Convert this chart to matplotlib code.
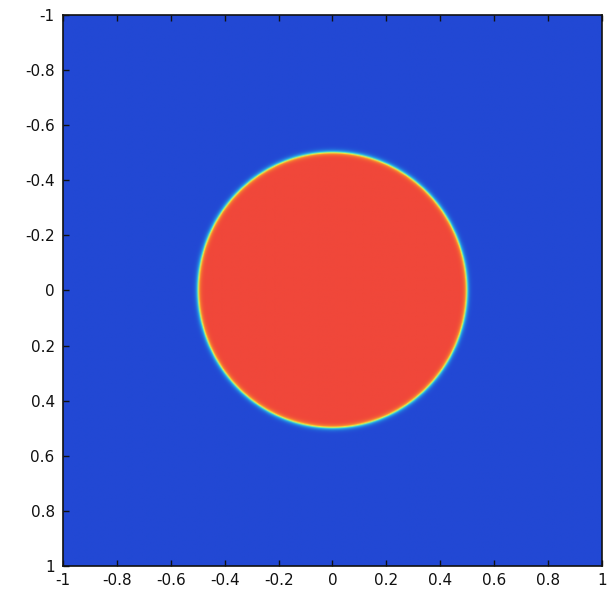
import numpy as np
import matplotlib
matplotlib.use('Agg')
from matplotlib import pyplot as plt
from matplotlib.colors import LinearSegmentedColormap

# phase field: circular drop in a square domain
x_range = [-1, 1]
y_range = [-1, 1]
center = [0.0, 0.0]
radius = 0.5
interface_width = 0.01
n_grid = 600

ticks = [-1, -0.8, -0.6, -0.4, -0.2, 0, 0.2, 0.4, 0.6, 0.8, 1]
tick_labels = ['-1', '-0.8', '-0.6', '-0.4', '-0.2', '0', '0.2', '0.4', '0.6', '0.8', '1']

x = np.linspace(x_range[0], x_range[1], n_grid)
y = np.linspace(y_range[0], y_range[1], n_grid)
X, Y = np.meshgrid(x, y)
r = np.sqrt((X - center[0])**2 + (Y - center[1])**2)
phi = 0.5 * (1 - np.tanh((r - radius) / interface_width))

cmap = LinearSegmentedColormap.from_list(
    'drop', [(0.0, '#2248d4'), (0.3, '#27a8e8'), (0.45, '#5fe8c0'),
             (0.6, '#f2f040'), (0.78, '#f88a30'), (1.0, '#f0473a')])

fig = plt.figure(figsize=(6.08, 5.92), dpi=100)
ax = fig.add_axes([0.1036, 0.0439, 0.8865, 0.9308])
ax.imshow(phi, cmap=cmap, extent=[x_range[0], x_range[1], y_range[1], y_range[0]],
          origin='upper', aspect='auto', interpolation='bilinear')
ax.set_xlim(x_range)
ax.set_ylim(y_range[1], y_range[0])
ax.set_xticks(ticks)
ax.set_xticklabels(tick_labels)
ax.set_yticks(ticks)
ax.set_yticklabels(tick_labels)
ax.tick_params(direction='in', length=4, width=1, labelsize=11, colors='#111111',
               top=True, right=False)
ax.tick_params(axis='x', pad=5)
ax.tick_params(axis='y', pad=6)
for s in ax.spines.values():
    s.set_linewidth(1.2)
    s.set_color('#111111')

plt.savefig('out.png', dpi=100)
